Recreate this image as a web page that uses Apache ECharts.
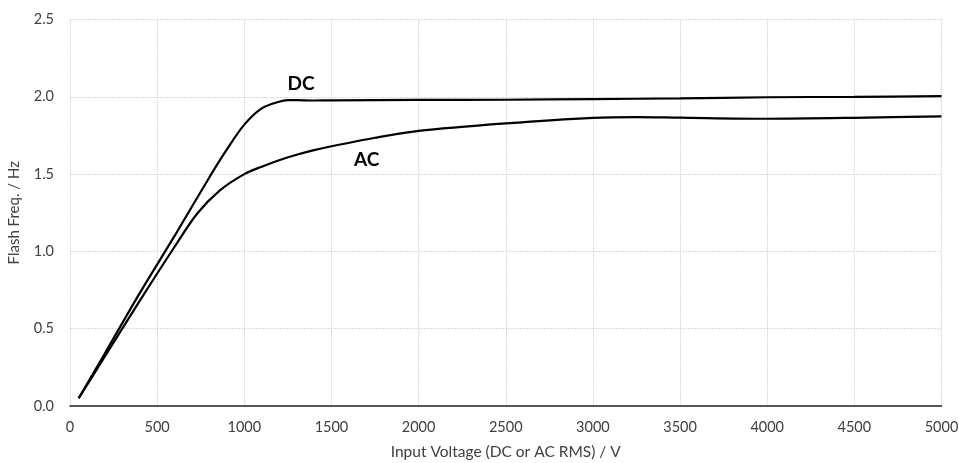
<!DOCTYPE html>
<html>
<head>
<meta charset="utf-8">
<script src="https://cdn.jsdelivr.net/npm/echarts@6/dist/echarts.min.js"></script>
<style>html,body{margin:0;padding:0;background:#fff}#c{width:959px;height:463px}</style>
</head>
<body>
<div id="c"></div>
<script>
var dcVoltage = [50, 200, 400, 600, 800, 900, 1000, 1100, 1200, 1250, 1300, 1400, 1500, 2000, 2500, 3000, 3500, 4000, 4500, 5000];
var dcFreq    = [0.05, 0.34, 0.73, 1.1, 1.48, 1.66, 1.82, 1.925, 1.968, 1.978, 1.979, 1.976, 1.977, 1.98, 1.981, 1.985, 1.99, 1.997, 2.0, 2.004];
var acVoltage = [50, 200, 400, 600, 730, 860, 1000, 1100, 1200, 1300, 1400, 1500, 1750, 2000, 2500, 3000, 3250, 3500, 4000, 4500, 5000];
var acFreq    = [0.05, 0.32, 0.68, 1.03, 1.245, 1.395, 1.5, 1.548, 1.59, 1.625, 1.655, 1.68, 1.735, 1.78, 1.828, 1.864, 1.869, 1.865, 1.858, 1.864, 1.874];
var xTitle = 'Input Voltage (DC or AC RMS) / V';
var yTitle = 'Flash Freq. / Hz';
var dcLabel = {text: 'DC', at: [1325, 2.084]};
var acLabel = {text: 'AC', at: [1702, 1.594]};

function pairs(xs, ys){ return xs.map(function(x,i){ return [x, ys[i]]; }); }
var font = 'Lato, "Liberation Sans", sans-serif';
var chart = echarts.init(document.getElementById('c'), null, {renderer:'canvas'});
function mp(l){
  return {symbol:'circle', symbolSize:1, silent:true,
    itemStyle:{color:'rgba(0,0,0,0)'},
    data:[{coord:l.at, value:l.text}],
    label:{show:true, position:'inside', formatter:l.text, color:'#000', fontWeight:'bold', fontSize:19, fontFamily:font}};
}
chart.setOption({
  animation:false,
  grid:{left:70, right:17.5, top:19.5, bottom:57, containLabel:false, outerBoundsMode:'none'},
  xAxis:{type:'value', min:0, max:5000, interval:500,
    name:xTitle, nameLocation:'middle', nameGap:38,
    nameTextStyle:{color:'#404040', fontSize:15.5, fontFamily:font},
    axisLine:{show:true, onZero:false, lineStyle:{color:'#262626', width:1.5}},
    axisTick:{show:false},
    axisLabel:{color:'#404040', fontSize:14.5, fontFamily:font, margin:14,
      formatter:function(v){return String(v);}},
    splitLine:{show:true, lineStyle:{color:'#d9d9d9', type:[2,1], width:1}}
  },
  yAxis:{type:'value', min:0, max:2.5, interval:0.5,
    name:yTitle, nameLocation:'middle', nameGap:48, nameRotate:90,
    nameTextStyle:{color:'#404040', fontSize:15, fontFamily:font},
    axisLine:{show:false}, axisTick:{show:false},
    axisLabel:{color:'#404040', fontSize:14.5, fontFamily:font, margin:16,
      formatter:function(v){return v.toFixed(1);}},
    splitLine:{show:true, lineStyle:{color:'#d9d9d9', type:[2,1], width:1}}
  },
  series:[
    {name:'DC', type:'line', data:pairs(dcVoltage, dcFreq), smooth:0.3,
      showSymbol:false, lineStyle:{color:'#000', width:2.2}, markPoint:mp(dcLabel), z:3},
    {name:'AC', type:'line', data:pairs(acVoltage, acFreq), smooth:0.3,
      showSymbol:false, lineStyle:{color:'#000', width:2.2}, markPoint:mp(acLabel), z:3}
  ]
});
</script>
</body>
</html>
